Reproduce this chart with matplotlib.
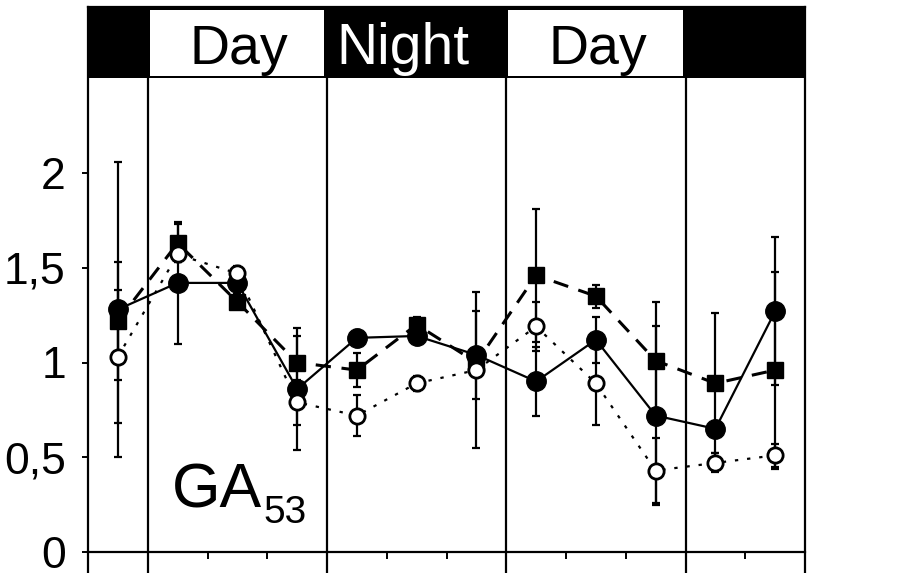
import numpy as np
import matplotlib
matplotlib.use("Agg")
import matplotlib.pyplot as plt
from matplotlib.patches import Rectangle

plt.rcParams['font.family'] = ['Liberation Sans', 'DejaVu Sans']

# sampling times (h) and the three series
horas = [2, 6, 10, 14, 18, 22, 26, 30, 34, 38, 42, 46]

cheio = [1.28, 1.42, 1.42, 0.86, 1.13, 1.14, 1.04, 0.90, 1.12, 0.72, 0.65, 1.27]
cheio_err = [0.78, 0.32, 0.04, 0.32, 0.04, 0.04, 0.23, 0.18, 0.12, 0.47, 0.04, 0.39]

quadrado = [1.22, 1.63, 1.32, 1.00, 0.96, 1.20, 1.00, 1.46, 1.35, 1.01, 0.89, 0.96]
quadrado_err = [0.31, 0.10, 0.04, 0.14, 0.09, 0.04, 0.04, 0.35, 0.06, 0.31, 0.37, 0.52]

aberto = [1.03, 1.57, 1.47, 0.79, 0.72, 0.89, 0.96, 1.19, 0.89, 0.43, 0.47, 0.51]
aberto_err = [0.35, 0.04, 0.04, 0.12, 0.11, 0.04, 0.41, 0.13, 0.22, 0.17, 0.05, 0.06]

# light periods along the top band: (start, end, label)
periodos = [(0, 4, ''), (4, 16, 'Day'), (16, 28, 'Night'), (28, 40, 'Day'), (40, 48, '')]
divisoes = [4, 16, 28, 40]

y_ticks = [0, 0.5, 1, 1.5, 2]
y_labels = ['0', '0,5', '1', '1,5', '2']

#### Figure ####
fig = plt.figure(figsize=(9.18, 5.73), dpi=100)
ax = fig.add_axes([88 / 918, 0, (805 - 88) / 918, (573 - 7) / 573])

y_min, y_top, y_band = -21 / 189.5, 545 / 189.5, 2.5
ax.set_xlim(0, 48)
ax.set_ylim(y_min, y_top)

for lado in ['left', 'right', 'top']:
    ax.spines[lado].set_linewidth(1.6)
ax.spines['bottom'].set_position(('data', 0))
ax.spines['bottom'].set_linewidth(1.6)

ax.set_xticks(np.arange(0, 49, 4))
ax.set_xticklabels([])
ax.tick_params(axis='x', direction='out', length=5, width=1.4)
ax.set_yticks(y_ticks)
ax.set_yticklabels(y_labels, fontsize=32)
ax.tick_params(axis='y', direction='out', length=4, width=1.4, pad=12)

ax.vlines(divisoes, y_min, y_band, color='black', lw=1.6, zorder=1)

#### Header band ####
ax.add_patch(Rectangle((0, y_band), 48, y_top - y_band, facecolor='black',
                       edgecolor='none', clip_on=False, zorder=5))
for ini, fim, rotulo in periodos:
    if rotulo == 'Day':
        ax.add_patch(Rectangle((ini + 0.15, y_band + 0.01), fim - ini - 0.35,
                               y_top - y_band - 0.027, facecolor='white',
                               edgecolor='none', zorder=6))
        ax.text((ini + fim) / 2 + 0.1, 2.577, rotulo, ha='center', va='baseline',
                fontsize=40, color='black', zorder=7)
    elif rotulo == 'Night':
        ax.text((ini + fim) / 2 - 0.9, 2.577, rotulo, ha='center', va='baseline',
                fontsize=41, color='white', zorder=7)

#### Series ####
ax.errorbar(horas, quadrado, yerr=quadrado_err, fmt='none', ecolor='black',
            elinewidth=1.6, capsize=3.2, capthick=1.6, zorder=2)
ax.errorbar(horas, cheio, yerr=cheio_err, fmt='none', ecolor='black',
            elinewidth=1.6, capsize=3.2, capthick=1.6, zorder=2)
ax.errorbar(horas, aberto, yerr=aberto_err, fmt='none', ecolor='black',
            elinewidth=1.6, capsize=3.2, capthick=1.6, zorder=2)

ax.plot(horas, quadrado, color='black', lw=2.2, linestyle=(0, (5, 3.5)),
        marker='s', markersize=11, zorder=3)
ax.plot(horas, cheio, color='black', lw=1.6, linestyle='-',
        marker='o', markersize=14, zorder=4)
ax.plot(horas, aberto, color='black', lw=1.6, linestyle=(0, (1.5, 4)),
        marker='o', markersize=11, markerfacecolor='white',
        markeredgecolor='black', markeredgewidth=2, zorder=4.5)

#### Label ####
ax.text((172 - 88) / 59.75 * 4, 0.233, 'GA', fontsize=45, ha='left', va='baseline')
ax.text((263 - 88) / 59.75 * 4, 0.153, '53', fontsize=28, ha='left', va='baseline')

fig.savefig('out.png', dpi=100)
